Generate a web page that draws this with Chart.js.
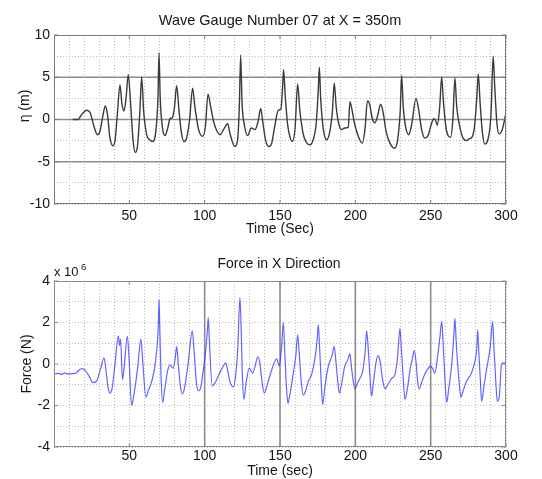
<!DOCTYPE html>
<html><head><meta charset="utf-8">
<script src="https://cdn.jsdelivr.net/npm/chart.js@4"></script>
<style>
html,body{margin:0;padding:0;background:#fff;}
#wrap{position:relative;width:542px;height:479px;overflow:hidden;}
.box{position:absolute;left:0;width:542px;}
</style></head><body>
<div id="wrap">
<div class="box" style="top:0;height:240px"><canvas id="top" width="542" height="240"></canvas></div>
<div class="box" style="top:240px;height:239px"><canvas id="bot" width="542" height="239"></canvas></div>
</div>
<script>
// ---- Data ----
const waveTime = [12.4,16,18,21.7,24,26.5,28.8,30.5,32.5,34,35.5,37,39,40.5,42,43.8,45,46.5,47.8,49.3,50.8,52.5,54,55.5,57,58.2,59.5,61.5,63.5,65.5,67.5,69,69.7,70.5,72,73.7,75.5,77,78.5,80,81.4,83,84.5,86.3,88,90,92,93.5,96,98.7,100.5,102.2,104,106,108,110.2,112.5,115.2,117,120,121.8,123,123.9,124.8,126.5,128.5,131,133.4,135.5,137.2,138.5,140.5,142.7,144.5,146.5,148.9,150.6,151.6,152.4,153.4,155,156.5,158.2,160,161.7,163.2,165.5,167.5,169.9,172,174,175.4,176.1,177,178.8,181,183,184.8,186,187.3,189,190.9,193,195.3,196.4,197.5,199.5,202,204.6,206.5,208,209.5,211,213,215,216.8,218.5,220.5,223,225.9,228,229.8,230.7,231.8,233.5,235.4,237.5,240.2,242,244,246.2,248.5,250.5,252.2,253.5,254.4,256,257.3,258.5,260.5,263.3,264.8,266.1,267.3,269.5,271.5,273.8,275.5,277,279,280.6,281.6,282.8,284.3,286,287.8,290,291.5,292.5,294,295.5,297.5,300];
const waveEta = [0,0,0.5,1.1,0.8,-0.8,-1.8,-1.4,0.5,1.6,0.6,-2.0,-3.1,-2.5,0.5,4.1,2.0,1.0,2.5,5.3,2.0,-2.5,-3.9,-3.0,1.0,5.0,1.0,-1.8,-2.4,-2.6,-1.5,2.5,7.9,2.5,-1.0,-1.9,-1.0,0.1,0.2,1.5,4.0,1.0,-1.5,-2.6,-2.2,0,3.7,1.5,-1.2,-2.0,-0.8,3.0,1.5,-0.3,-1.3,-1.8,-1.2,-0.5,-1.8,-3.2,-2.5,1.5,7.6,2.0,-0.8,-1.9,-1.0,-1.2,-0.2,1.3,-0.2,-2.5,-3.2,-2.8,-0.8,1.1,1.2,3.5,5.9,3.0,-0.5,-2.0,-2.6,-1.0,4.2,1.0,-1.8,-2.7,-3.0,-2.4,-0.5,3.5,6.2,2.5,-1.2,-2.4,-1.5,1.0,4.3,1.5,-0.5,-1.2,-1.0,-0.9,2.1,1.4,-0.5,-2.0,-2.8,-1.0,2.2,1.8,0.3,-0.4,0.6,1.8,0.8,-1.5,-2.8,-3.4,-2.5,1.0,5.2,1.5,-1.0,-1.8,-0.5,2.5,1.2,-1.2,-2.2,-1.8,-0.5,0.1,-0.2,-0.7,1.5,5.0,2.0,-1.3,-2.1,0.2,4.9,1.5,-1.0,-2.2,-2.5,-2.3,-2.2,-1.0,2.5,5.4,2.0,-1.5,-2.9,-2.5,0.5,7.5,4.0,-0.5,-1.7,-1.2,0.8];

const forceTime = [0.7,3,5,7,9,11,13,15,16.5,18.4,20.6,23,26,28.5,31,33.2,34.5,35.8,37.2,38.5,40.5,42.7,43.5,44.2,45.4,46.5,48.7,49.8,51.5,53,55.5,57.7,59,61,62.5,65,67.5,69.2,69.7,70.3,71,72.1,73.5,75.5,77,79,80.5,81.4,82.5,83.8,85.2,86.5,89,91.8,93,94.5,95.8,97.5,98.7,100.5,101.8,102.4,103.2,105,107,109.5,112,114,115.5,117,119,120.5,122,123.4,124.3,125,126,127.5,129.6,131.8,133.5,135.2,136.5,138,139.6,141.5,144,147.8,149.5,151,152.2,153.2,154.2,155.3,156.5,158.5,160.5,161.7,162.8,164,165.5,167,169,171,173,174.7,175.4,176.3,177.3,178.3,179.5,181,182.5,184.5,186,187,188.3,189.4,191,193,195,196.4,197.5,199.7,201.5,203,205,206.5,207.5,208.5,209.7,210.8,212,213.8,215.2,216.5,218,219.7,221.5,224,226.3,228,229.6,230.5,231.7,232.9,234.5,236.5,238,239.1,240.3,241.3,242.4,244,246,248.5,250,251.5,252.8,254.5,256.3,257.3,258.3,259.5,260.6,262,264,265.3,266.1,267,268.8,270.1,271.5,274,276.7,278.5,280.5,281.2,282,283,283.8,285.5,287.5,289.5,291.1,292,293.2,294.2,295.5,297.1,298.5,300];
// Force in x 10^6 N
const forceX = [-0.47,-0.45,-0.5,-0.43,-0.48,-0.47,-0.46,-0.42,-0.3,-0.22,-0.3,-0.55,-0.9,-0.8,-0.2,0.3,-0.3,-1.1,-1.4,-1.2,0,1.35,0.9,1.2,-0.75,-0.2,1.35,0.3,-2.0,-1.5,-0.2,1.2,0,-1.6,-1.3,-0.8,0.2,1.8,3.1,1.5,-0.5,-1.85,-1.2,-0.3,-0.05,-0.2,0.3,0.85,0,-1.0,-1.45,-1.2,0,1.6,0.6,-0.9,-1.3,-1.1,-0.5,0.5,1.6,2.25,1.0,-1.05,-0.9,-0.5,-0.15,0.05,-0.4,-0.9,-1.1,-0.6,0.8,3.2,1.5,-0.5,-1.7,-0.9,-0.2,-0.45,-0.1,0.35,0.1,-0.8,-1.4,-1.0,-0.4,0.25,-0.1,0.8,2.0,0.5,-1.0,-1.9,-1.5,-0.6,0.4,1.4,0.5,-0.8,-1.5,-1.3,-0.8,-0.5,0.2,1.2,1.9,0.8,-0.8,-1.95,-1.3,-0.5,0,0.4,0.85,0.2,-0.8,-1.4,-0.9,-0.1,0.2,0.5,-0.2,-1.2,-0.9,-0.7,-0.3,0.6,1.6,0.8,-0.6,-1.55,-0.9,0.1,0.4,0.1,-0.7,-1.2,-1.0,-0.7,-0.5,0.3,1.7,0.8,-0.6,-1.7,-1.2,-0.2,0.3,0.65,0.1,-0.8,-1.2,-0.9,-0.5,-0.2,-0.1,-0.25,-0.45,0.3,1.4,2.05,1.0,-0.8,-1.85,-1.2,0,1.3,2.2,1.0,-0.8,-1.6,-1.3,-0.8,-0.5,-0.1,0.7,1.65,0.5,-0.8,-1.8,-1.0,-0.1,0.8,2.05,0.8,-0.8,-1.8,-1.6,0,0.05,0.05];

const timeTickLabels = [50,100,150,200,250,300];
const waveYTickLabels = [-10,-5,0,5,10];
const forceYTickLabels = [-4,-2,0,2,4];
const waveRefLines = [-5,0,5];          // solid horizontal lines (top)
const forceRefLines = [100,150,200,250]; // solid vertical lines (bottom)

// ---- Styling helpers ----
const FONT = "'Liberation Sans', Arial, Helvetica, sans-serif";
const TXT = '#151515';
const GRID = '#bdbdbd';

function overlayPlugin(o){
  return {
    id:'overlay',
    beforeDatasetsDraw(chart){
      const {ctx, chartArea:a, scales:{x,y}} = chart;
      ctx.save();
      ctx.strokeStyle = '#8c8c8c'; ctx.lineWidth = 1.6;
      (o.hRefs||[]).forEach(v=>{
        const py = y.getPixelForValue(v);
        ctx.beginPath(); ctx.moveTo(a.left,py); ctx.lineTo(a.right,py); ctx.stroke();
      });
      (o.vRefs||[]).forEach(v=>{
        const px = x.getPixelForValue(v);
        ctx.beginPath(); ctx.moveTo(px,a.top); ctx.lineTo(px,a.bottom); ctx.stroke();
      });
      ctx.restore();
    },
    afterDraw(chart){
      const {ctx, chartArea:a, scales:{x,y}} = chart;
      ctx.save();
      ctx.strokeStyle = o.frame; ctx.lineWidth = 1;
      ctx.strokeRect(Math.round(a.left)+0.5, Math.round(a.top)+0.5, Math.round(a.right-a.left)-1, Math.round(a.bottom-a.top)-1);
      ctx.beginPath();
      o.xTicks.forEach(v=>{ const px = x.getPixelForValue(v);
        ctx.moveTo(px,a.bottom); ctx.lineTo(px,a.bottom-4);
        ctx.moveTo(px,a.top); ctx.lineTo(px,a.top+4); });
      o.yTicks.forEach(v=>{ const py = y.getPixelForValue(v);
        ctx.moveTo(a.left,py); ctx.lineTo(a.left+4,py);
        ctx.moveTo(a.right,py); ctx.lineTo(a.right-4,py); });
      ctx.stroke();
      ctx.fillStyle = TXT;
      o.texts.forEach(t=>{
        ctx.save();
        ctx.font = t.size + 'px ' + FONT;
        ctx.textAlign = t.align || 'center';
        ctx.textBaseline = 'middle';
        ctx.translate(t.x, t.y);
        if (t.rot) ctx.rotate(t.rot);
        ctx.fillText(t.text, 0, 0);
        ctx.restore();
      });
      ctx.restore();
    }
  };
}

function makeChart(id, xs, ys, cfg){
  return new Chart(document.getElementById(id), {
    type:'line',
    data:{datasets:[{
      data: xs.map((t,i)=>({x:t, y:ys[i]})),
      borderColor: cfg.color, borderWidth: cfg.width,
      pointRadius:0, fill:false, cubicInterpolationMode:'monotone'
    }]},
    options:{
      responsive:false, animation:false, devicePixelRatio:1,
      layout:{padding:{top:cfg.padTop, right:36, left:0, bottom:0}},
      plugins:{legend:{display:false}, tooltip:{enabled:false}, title:{display:false}},
      scales:{
        x:{type:'linear', min:0, max:300,
           afterFit:s=>{ s.height = cfg.xHeight; },
           ticks:{stepSize:10, maxTicksLimit:100, autoSkip:false, maxRotation:0, padding:cfg.xPad,
                  color:TXT, font:{family:FONT, size:14},
                  callback:v=> timeTickLabels.includes(v) ? String(v) : ''},
           grid:{color:GRID, lineWidth:1, drawTicks:false},
           border:{display:false, dash:[1,2]}},
        y:{type:'linear', min:cfg.yMin, max:cfg.yMax,
           afterFit:s=>{ s.width = 54; },
           ticks:{stepSize:cfg.yStep, maxTicksLimit:100, autoSkip:false, padding:4,
                  color:TXT, font:{family:FONT, size:14},
                  callback:v=> cfg.yLabels.includes(v) ? String(v) : ''},
           grid:{color:GRID, lineWidth:1, drawTicks:false},
           border:{display:false, dash:[1,2]}}
      }
    },
    plugins:[overlayPlugin(cfg.overlay)]
  });
}

makeChart('top', waveTime, waveEta, {
  color:'#3a3a3a', width:1.4, padTop:35, xHeight:36, xPad:4,
  yMin:-10, yMax:10, yStep:2.5, yLabels:waveYTickLabels,
  overlay:{ hRefs:waveRefLines, frame:'#7a7a7a', xTicks:timeTickLabels, yTicks:waveYTickLabels,
    texts:[
      {text:'Wave Gauge Number 07 at X = 350m', x:280, y:21, size:14.5},
      {text:'Time (Sec)', x:280, y:229, size:14},
      {text:'η (m)', x:25, y:106, size:14, rot:-Math.PI/2}
    ]}
});

makeChart('bot', forceTime, forceX, {
  color:'rgba(40,40,255,0.72)', width:1.2, padTop:41, xHeight:32, xPad:1,
  yMin:-4, yMax:4, yStep:1, yLabels:forceYTickLabels,
  overlay:{ vRefs:forceRefLines, frame:'#8a8a8a', xTicks:timeTickLabels, yTicks:forceYTickLabels,
    texts:[
      {text:'Force in X Direction', x:279, y:24, size:14},
      {text:'x 10', x:54, y:32, size:13, align:'left'},
      {text:'6', x:81, y:27, size:9.5, align:'left'},
      {text:'Time (sec)', x:280, y:231, size:14},
      {text:'Force (N)', x:27, y:124, size:14, rot:-Math.PI/2}
    ]}
});
</script>
</body></html>
